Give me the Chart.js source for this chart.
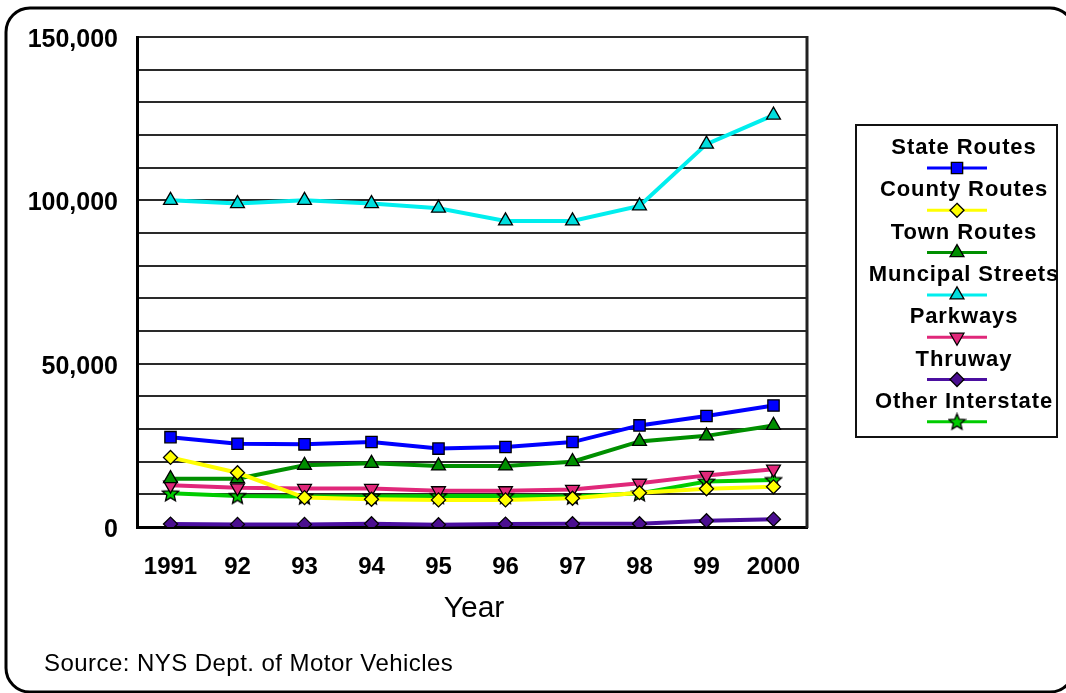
<!DOCTYPE html>
<html>
<head>
<meta charset="utf-8">
<script src="https://cdn.jsdelivr.net/npm/chart.js@4/dist/chart.umd.min.js"></script>
<style>
  html, body { margin: 0; padding: 0; background: #fff; }
  #wrap { width: 1066px; height: 693px; position: relative; }
</style>
</head>
<body>
<div id="wrap"><canvas id="c"></canvas></div>
<script>
const years = ['1991', '92', '93', '94', '95', '96', '97', '98', '99', '2000'];
const stateRoutes      = [27500, 25500, 25300, 26000, 24000, 24500, 26000, 31100, 34000, 37200];
const countyRoutes     = [21300, 16600, 9000, 8500, 8300, 8300, 8800, 10500, 11700, 12300];
const townRoutes       = [14800, 14800, 18900, 19500, 18700, 18700, 20000, 26200, 27900, 31100];
const municipalStreets = [100000, 99000, 100000, 99000, 97600, 93700, 93700, 98300, 117200, 126100];
const parkways         = [12800, 12000, 11800, 11800, 11100, 11100, 11500, 13400, 15800, 17700];
const thruway          = [900, 800, 800, 1000, 700, 900, 1000, 1000, 1900, 2400];
const otherInterstate  = [10300, 9500, 9300, 9300, 9500, 9500, 9300, 10300, 13900, 14400];
const seriesNames = ['State Routes', 'County Routes', 'Town Routes', 'Muncipal Streets', 'Parkways', 'Thruway', 'Other Interstate'];
const yTickLabels = [0, 50000, 100000, 150000];
const xTitle = 'Year';
const sourceText = 'Source: NYS Dept. of Motor Vehicles';

const FONT = "'Liberation Sans', Arial, Helvetica, sans-serif";

function makeStar(fill, size) {
  const cv = document.createElement('canvas');
  cv.width = size; cv.height = size;
  const ctx = cv.getContext('2d');
  const cx = size / 2, cy = size / 2 + 0.5, ro = size / 2 - 1, ri = ro * 0.45;
  ctx.beginPath();
  for (let i = 0; i < 10; i++) {
    const r = i % 2 === 0 ? ro : ri;
    const a = -Math.PI / 2 + i * Math.PI / 5;
    const px = cx + r * Math.cos(a), py = cy + r * Math.sin(a);
    if (i === 0) ctx.moveTo(px, py); else ctx.lineTo(px, py);
  }
  ctx.closePath();
  ctx.fillStyle = fill; ctx.fill();
  ctx.lineWidth = 1.3; ctx.strokeStyle = '#000'; ctx.stroke();
  return cv;
}

const styles = [
  { color: '#0000FF', fill: '#0000FF', point: 'rect', radius: 8, rotation: 0 },
  { color: '#FFFF00', fill: '#FFFF00', point: 'rectRot', radius: 7, rotation: 0 },
  { color: '#008F00', fill: '#008F00', point: 'triangle', radius: 8, rotation: 0 },
  { color: '#00EEEE', fill: '#00DDDD', point: 'triangle', radius: 8, rotation: 0 },
  { color: '#E0287A', fill: '#E0287A', point: 'triangle', radius: 8, rotation: 180 },
  { color: '#4B0FA0', fill: '#4B0F90', point: 'rectRot', radius: 7, rotation: 0 },
  { color: '#00CC00', fill: '#00CC00', point: 'star', radius: 8, rotation: 0 }
];
const starImg = makeStar('#00CC00', 19);

const seriesData = [stateRoutes, countyRoutes, townRoutes, municipalStreets, parkways, thruway, otherInterstate];

const datasets = seriesData.map((d, i) => ({
  label: seriesNames[i],
  data: d,
  borderColor: styles[i].color,
  backgroundColor: styles[i].fill,
  borderWidth: 4,
  tension: 0,
  pointStyle: styles[i].point === 'star' ? starImg : styles[i].point,
  pointRadius: styles[i].radius,
  pointRotation: styles[i].rotation,
  pointBackgroundColor: styles[i].fill,
  pointBorderColor: '#000',
  pointBorderWidth: 1.3
}));

function drawMarker(ctx, st, x, y) {
  ctx.save();
  ctx.fillStyle = st.fill; ctx.strokeStyle = '#000'; ctx.lineWidth = 1.3;
  const r = st.radius;
  if (st.point === 'star') {
    ctx.drawImage(starImg, x - 9.5, y - 9.5);
    ctx.restore();
    return;
  }
  ctx.beginPath();
  if (st.point === 'rect') {
    const s = r * Math.SQRT1_2;
    ctx.rect(x - s, y - s, 2 * s, 2 * s);
  } else if (st.point === 'rectRot') {
    ctx.moveTo(x, y - r); ctx.lineTo(x + r, y); ctx.lineTo(x, y + r); ctx.lineTo(x - r, y); ctx.closePath();
  } else if (st.point === 'triangle') {
    let rad = st.rotation * Math.PI / 180;
    for (let k = 0; k < 3; k++) {
      const px = x + Math.sin(rad) * r, py = y - Math.cos(rad) * r;
      if (k === 0) ctx.moveTo(px, py); else ctx.lineTo(px, py);
      rad += 2 * Math.PI / 3;
    }
    ctx.closePath();
  }
  ctx.fill(); ctx.stroke();
  ctx.restore();
}

const framePlugin = {
  id: 'frame',
  beforeDraw(chart) {
    const ctx = chart.ctx;
    ctx.save();
    ctx.fillStyle = '#fff';
    ctx.fillRect(0, 0, chart.width, chart.height);
    ctx.lineWidth = 3;
    ctx.strokeStyle = '#000';
    ctx.beginPath();
    ctx.roundRect(6, 8, 1068, 684, 24);
    ctx.stroke();
    ctx.restore();
  },
  beforeDatasetsDraw(chart) {
    const ctx = chart.ctx, a = chart.chartArea;
    ctx.save();
    ctx.strokeStyle = '#222';
    ctx.lineWidth = 3;
    ctx.beginPath();
    ctx.moveTo(a.right, a.top - 1);
    ctx.lineTo(a.right, a.bottom + 1);
    ctx.stroke();
    ctx.restore();
  },
  afterDraw(chart) {
    const ctx = chart.ctx, a = chart.chartArea;
    ctx.save();
    ctx.fillStyle = '#000';
    ctx.textAlign = 'center';
    ctx.textBaseline = 'middle';
    ctx.font = '30px ' + FONT;
    ctx.fillText(xTitle, (a.left + a.right) / 2 + 2, 609);
    ctx.textAlign = 'left';
    ctx.font = '24px ' + FONT;
    ctx.letterSpacing = '0.45px';
    ctx.fillText(sourceText, 44, 664);
    ctx.lineWidth = 2;
    ctx.strokeStyle = '#111';
    ctx.strokeRect(856, 125, 201, 312);
    chart.data.datasets.forEach((ds, i) => {
      const ty = 148 + i * 42.3;
      const ly = ty + 20;
      ctx.fillStyle = '#000';
      ctx.textAlign = 'center';
      ctx.font = 'bold 22px ' + FONT;
      ctx.letterSpacing = '0.9px';
      ctx.fillText(ds.label, 964, ty);
      ctx.letterSpacing = '0px';
      ctx.strokeStyle = ds.borderColor;
      ctx.lineWidth = 3;
      ctx.beginPath();
      ctx.moveTo(927, ly); ctx.lineTo(987, ly);
      ctx.stroke();
      drawMarker(ctx, styles[i], 957, ly);
    });
    ctx.restore();
  }
};

Chart.defaults.font.family = FONT;

new Chart(document.getElementById('c'), {
  type: 'line',
  data: { labels: years, datasets: datasets },
  plugins: [framePlugin],
  options: {
    responsive: true,
    maintainAspectRatio: false,
    animation: false,
    events: [],
    layout: { padding: { left: 0, right: 259, top: 37, bottom: 0 } },
    plugins: { legend: { display: false }, tooltip: { enabled: false }, title: { display: false } },
    scales: {
      x: {
        type: 'category',
        offset: true,
        afterFit(s) { s.height = 166; },
        grid: { display: true, color: 'rgba(0,0,0,0)', drawTicks: false },
        border: { display: true, color: '#000', width: 3 },
        ticks: { color: '#000', font: { size: 24, weight: 'bold' }, padding: 26, maxRotation: 0, autoSkip: false }
      },
      y: {
        min: 0, max: 150000,
        afterFit(s) { s.width = 137; },
        grid: { color: '#2a2a2a', lineWidth: 2, drawTicks: false },
        border: { display: true, color: '#000', width: 3 },
        ticks: {
          stepSize: 10000,
          autoSkip: false,
          color: '#000',
          font: { size: 25, weight: 'bold' },
          padding: 19,
          labelOffset: 3,
          callback: v => yTickLabels.includes(v) ? v.toLocaleString('en-US') : ''
        }
      }
    }
  }
});
</script>
</body>
</html>
